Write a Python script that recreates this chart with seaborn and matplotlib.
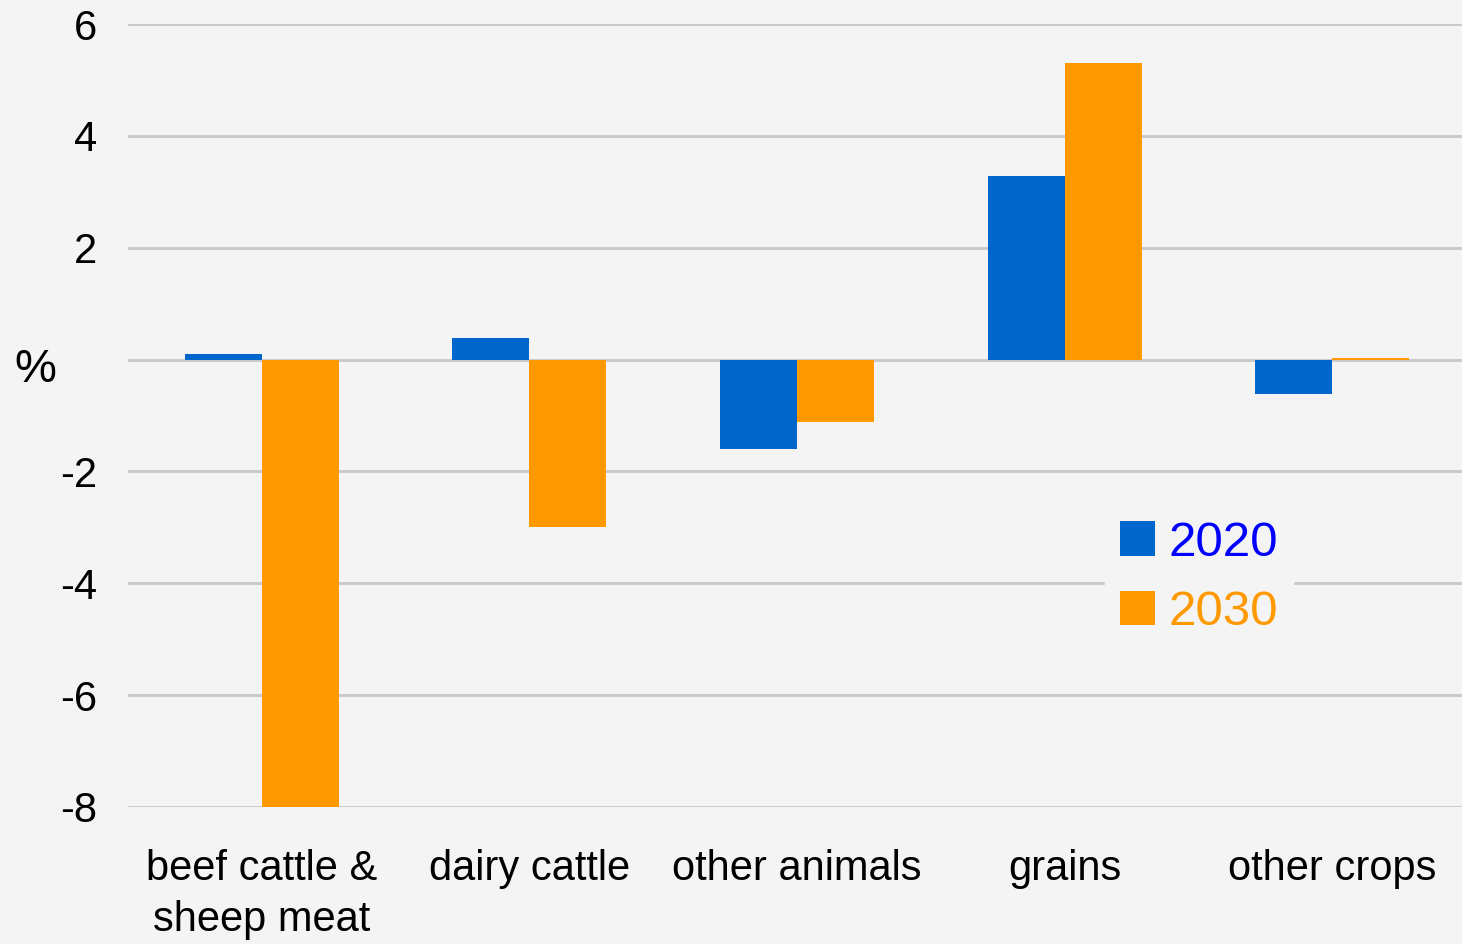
import matplotlib
matplotlib.use('Agg')
import matplotlib.pyplot as plt
import pandas as pd
import seaborn as sns

categories = ['beef cattle &\nsheep meat', 'dairy cattle', 'other animals', 'grains', 'other crops']
years = ['2020', '2030']
values_2020 = [0.1, 0.39, -1.6, 3.28, -0.61]
values_2030 = [-8.0, -2.99, -1.11, 5.3, 0.03]
y_ticks = [-8, -6, -4, -2, 0, 2, 4, 6]
y_tick_labels = ['-8', '-6', '-4', '-2', '', '2', '4', '6']

data = pd.DataFrame({
    'category': categories * 2,
    'year': [years[0]] * len(categories) + [years[1]] * len(categories),
    'value': values_2020 + values_2030,
})

bg = '#f4f4f4'
bar_colors = {'2020': '#0066cc', '2030': '#ff9900'}
text_colors = ['#0000ff', '#ff9900']

sns.set_style('white')
plt.rcParams['font.family'] = ['Liberation Sans', 'DejaVu Sans']
plt.rcParams['text.color'] = 'black'
plt.rcParams['xtick.color'] = 'black'
plt.rcParams['ytick.color'] = 'black'
plt.rcParams['axes.labelcolor'] = 'black'

fig = plt.figure(figsize=(14.62, 9.44), dpi=100, facecolor=bg)
ax = fig.add_axes([128 / 1462, 1 - 807 / 944, (1466 - 128) / 1462, (807 - 24) / 944])
ax.set_facecolor(bg)

sns.barplot(data=data, x='category', y='value', hue='year', palette=bar_colors,
            width=0.575, gap=0, saturation=1, linewidth=0, ax=ax)

ax.set_ylim(-8, 6)
ax.set_yticks(y_ticks)
ax.set_yticklabels(y_tick_labels)
ax.grid(axis='y', color='#c8c8c8', linewidth=2)
ax.set_axisbelow(True)
for s in ax.spines.values():
    s.set_visible(False)
ax.tick_params(axis='both', length=0, labelsize=30)
ax.tick_params(axis='y', pad=22)
ax.tick_params(axis='x', pad=30)
for lbl in ax.get_xticklabels():
    lbl.set_linespacing(1.35)
ax.set_xlabel('')
ax.set_ylabel('%', rotation=0, fontsize=34, va='center', ha='left')
ax.yaxis.set_label_coords(14 / 1462, 1 - 370 / 944, transform=fig.transFigure)

leg = ax.legend(loc='center', bbox_to_anchor=(1199 / 1462, 1 - 578 / 944),
                bbox_transform=fig.transFigure, fontsize=35.5, frameon=True,
                facecolor=bg, edgecolor=bg, framealpha=1, handlelength=0.7,
                handleheight=0.7, handletextpad=0.28, labelspacing=0.5,
                borderpad=0.3)
for t, c in zip(leg.get_texts(), text_colors):
    t.set_color(c)

fig.savefig('out.png', dpi=100, facecolor=bg)
